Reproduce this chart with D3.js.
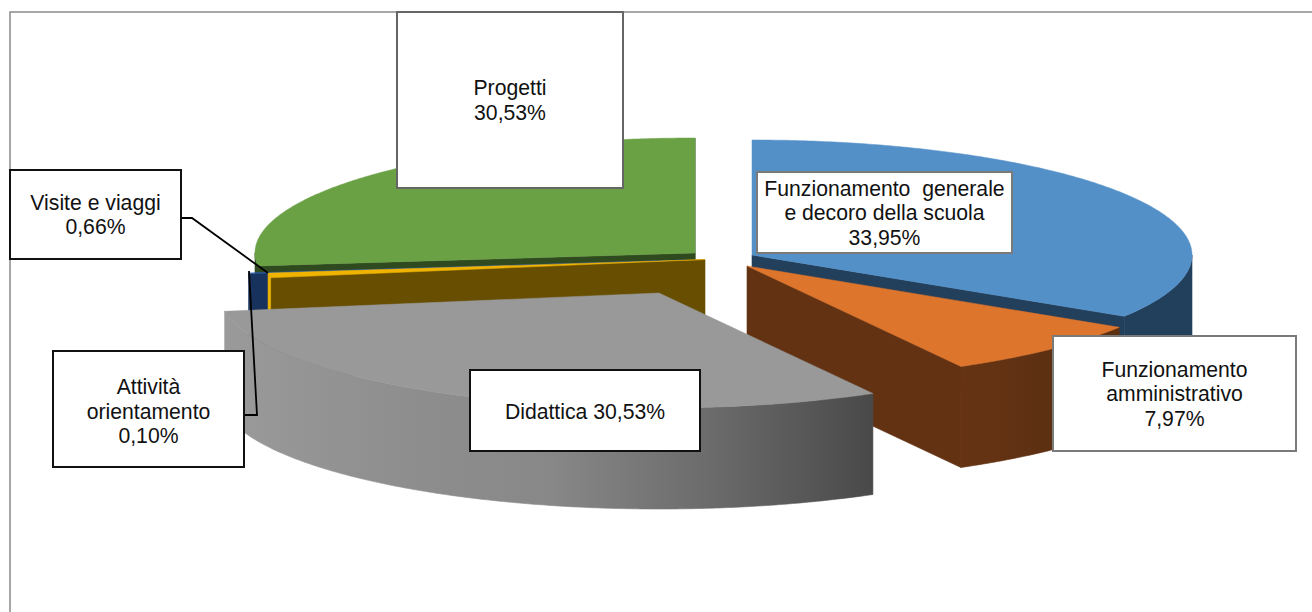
<!DOCTYPE html>
<html>
<head>
<meta charset="utf-8">
<script src="https://cdn.jsdelivr.net/npm/d3@7"></script>
<style>
  html, body { margin: 0; padding: 0; background: #fff; overflow: hidden; }
  svg { display: block; }
  text { font-family: "Liberation Sans", Arial, sans-serif; font-size: 21.2px; fill: #111; }
</style>
</head>
<body>
<svg id="chart" width="1312" height="612"></svg>
<script>
// data, clockwise from 12 o'clock
const categories = ["Funzionamento generale e decoro della scuola", "Funzionamento amministrativo", "Didattica", "Visite e viaggi", "Attività orientamento", "Progetti"];
// the printed labels add up to more than 100, the drawn Progetti slice is smaller than its label says
const shares = [33.95, 7.97, 30.53, 0.66, 0.10, 26.79];
const labelLines = [
  ["Funzionamento  generale", "e decoro della scuola", "33,95%"],
  ["Funzionamento", "amministrativo", "7,97%"],
  ["Didattica 30,53%"],
  ["Visite e viaggi", "0,66%"],
  ["Attività", "orientamento", "0,10%"],
  ["Progetti", "30,53%"]
];

// look of each slice, same order as categories
const topColors = ["#5490c8", "#dd752d", "#999999", "#f0b400", "#2a5aa8", "#6aa145"];
const wallColors = ["#223f5b", "#623213", "#666666", "#674e00", "#17325c", "#2f4a1f"];
const outerStops = [
  ["#223f5b", "#223f5b"],
  ["#663414", "#5e3012", "#5c3010"],
  ["#9a9a9a", "#8f8f8f", "#888888", "#6b6b6b", "#494949"],
  ["#f0b400", "#f0b400"],
  ["#17325c", "#17325c"],
  ["#2f4a1f", "#2f4a1f"]
];
const explodedCentres = [[752, 255], [747, 266], [659, 293], [705, 259.5], [686, 260], [695, 253]];
const drawOrder = [5, 4, 3, 0, 1, 2];

const rx = 440, ry = 115, depth = 101;

// label boxes: x, y, w, h, border colour, text nudge
const boxes = [
  [757, 172, 255, 81, "#7a7a7a", 0],
  [1053, 336, 243, 115, "#7a7a7a", 0],
  [470, 370, 230, 81, "#111", 1],
  [10, 170, 171, 89, "#111", 0],
  [53, 351, 191, 116, "#111", 2],
  [397, 12, 226, 176, "#666", 0]
];
const leaders = [
  { box: 3, pts: [[181, 218], [192, 218], [268, 273]] },
  { box: 4, pts: [[244, 415], [257, 415], [249, 271]] }
];

const svg = d3.select("#chart");
const defs = svg.append("defs");

// frame, only the top and left edges are inside the picture
svg.append("rect")
  .attr("x", 10).attr("y", 12)
  .attr("width", 1400).attr("height", 700)
  .attr("fill", "#fff")
  .attr("stroke", "#8a8a8a")
  .attr("stroke-width", 1.5);

const pie = d3.pie().sort(null).value(d => d);
const arcs = pie(shares);

const lineGen = d3.line();

function project(i, angle, drop) {
  const c = explodedCentres[i];
  return [c[0] + rx * Math.sin(angle), c[1] - ry * Math.cos(angle) + (drop || 0)];
}

function arcPoints(i, a0, a1, drop) {
  const n = Math.max(2, Math.ceil((a1 - a0) / 0.01));
  return d3.range(n + 1).map(k => project(i, a0 + (a1 - a0) * k / n, drop));
}

function radialWall(g, i, angle) {
  const c = explodedCentres[i];
  const p = project(i, angle);
  g.append("path")
    .attr("d", lineGen([c, p, [p[0], p[1] + depth], [c[0], c[1] + depth]]) + "Z")
    .attr("fill", wallColors[i])
    .attr("stroke", wallColors[i])
    .attr("stroke-width", 0.6);
}

drawOrder.forEach(i => {
  const d = arcs[i];
  const c = explodedCentres[i];
  const g = svg.append("g").attr("class", "slice").attr("data-name", categories[i]);

  // radial walls, only the ones turned towards the viewer
  if (Math.sin(d.endAngle) > 0) radialWall(g, i, d.endAngle);
  if (Math.sin(d.startAngle) < 0) radialWall(g, i, d.startAngle);

  // outer wall, the visible part is the front half of the ellipse
  const a0 = Math.max(d.startAngle, Math.PI / 2);
  const a1 = Math.min(d.endAngle, Math.PI * 1.5);
  if (a1 > a0) {
    const top = arcPoints(i, a0, a1, 0);
    const bottom = arcPoints(i, a0, a1, depth).reverse();
    const xs = d3.extent(top, p => p[0]);
    const id = "outer" + i;
    const stops = outerStops[i];
    const offset = d3.scaleLinear().domain([0, stops.length - 1]).range([0, 1]);
    const grad = defs.append("linearGradient")
      .attr("id", id)
      .attr("gradientUnits", "userSpaceOnUse")
      .attr("x1", xs[0]).attr("x2", xs[1] + 0.01)
      .attr("y1", 0).attr("y2", 0);
    stops.forEach((s, k) => grad.append("stop").attr("offset", offset(k)).attr("stop-color", s));
    g.append("path")
      .attr("d", lineGen(top.concat(bottom)) + "Z")
      .attr("fill", `url(#${id})`)
      .attr("stroke", `url(#${id})`)
      .attr("stroke-width", 0.6);
  }

  // top face, thin stroke hides the hairline against the wall
  g.append("path")
    .attr("d", lineGen([c].concat(arcPoints(i, d.startAngle, d.endAngle, 0))) + "Z")
    .attr("fill", topColors[i])
    .attr("stroke", topColors[i])
    .attr("stroke-width", 0.5);
});

// leader lines
leaders.forEach(l => {
  svg.append("path")
    .attr("d", lineGen(l.pts))
    .attr("fill", "none")
    .attr("stroke", "#000")
    .attr("stroke-width", 1.8);
});

// label boxes
const lineHeight = 24.5;
labelLines.forEach((lines, i) => {
  const b = boxes[i];
  svg.append("rect")
    .attr("x", b[0]).attr("y", b[1])
    .attr("width", b[2]).attr("height", b[3])
    .attr("fill", "#fff")
    .attr("stroke", b[4])
    .attr("stroke-width", 2);
  const cx = b[0] + b[2] / 2;
  const firstY = b[1] + b[3] / 2 - (lines.length - 1) * lineHeight / 2 + 7.5 + b[5];
  const t = svg.append("text").attr("text-anchor", "middle").style("white-space", "pre");
  lines.forEach((s, k) => {
    t.append("tspan").attr("x", cx).attr("y", firstY + k * lineHeight).text(s);
  });
});
</script>
</body>
</html>
